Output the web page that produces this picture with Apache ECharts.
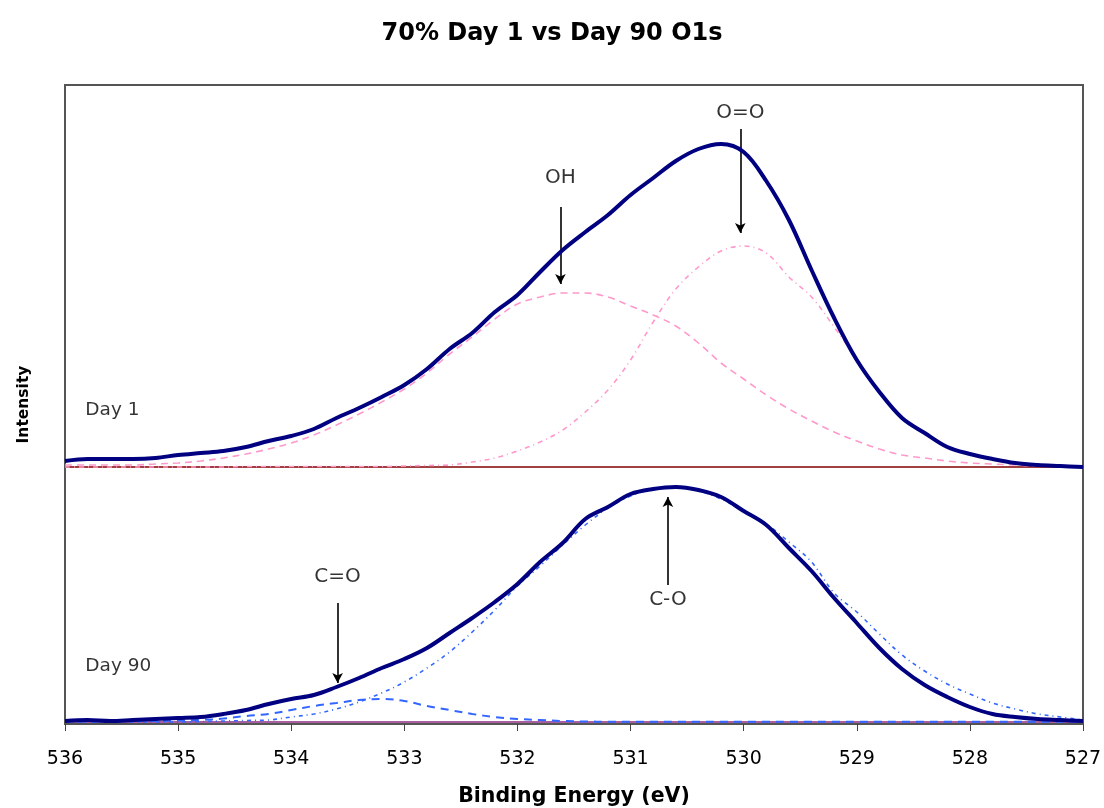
<!DOCTYPE html>
<html>
<head>
<meta charset="utf-8">
<script src="https://cdn.jsdelivr.net/npm/echarts@6/dist/echarts.min.js"></script>
<style>
html,body{margin:0;padding:0;background:#fff;}
#chart{width:1104px;height:808px;}
</style>
</head>
<body>
<div id="chart"></div>
<script>
// Binding energy grid (eV)
const energy = [536.0,535.8,535.6,535.4,535.2,535.0,534.8,534.6,534.4,534.2,534.0,533.8,533.6,533.4,533.2,533.0,532.8,532.6,532.4,532.2,532.0,531.8,531.6,531.4,531.2,531.0,530.8,530.6,530.4,530.2,530.0,529.8,529.6,529.4,529.2,529.0,528.8,528.6,528.4,528.2,528.0,527.8,527.6,527.4,527.2,527.0];

// Day 1 (intensity above its own baseline, arbitrary units)
const day1Envelope = [6,8,8,8,9,12,14,16,20,26,31,38,49,59,70,82,98,118,134,155,172,195,217,235,252,272,289,306,318,323,315,286,247,197,149,107,75,49,34,20,13,8,4,2,1,0];
const day1OH = [2,2,2,2,3,4,6,9,13,18,24,32,42,53,65,78,94,113,130,148,163,170,174,174,170,161,152,141,124,104,88,72,58,46,35,26,18,12,9,6,4,3,2,1,1,0];
const day1OO = [0,0,0,0,0,0,0,0,0.5,0.5,0.5,0.5,0.5,0.5,0.5,1,1.5,2,5,9,16,25,37,55,77,107,145,178,200,216,221,214,190,170,140,108,75,50,33,21,13,8,4,2,1,0];

// Day 90
const day90Envelope = [1,2,1,2,3,4,5,8,12,18,23,27,35,44,54,63,74,89,104,120,138,160,179,203,215,228,233,235,232,225,211,197,174,151,124,99,74,53,37,25,15,8,5,3,2,1];
const day90CO_single = [0,0,0,0,0,0,0.5,1,1.5,2,5,8,13,20,29,40,54,70,90,112,136,156,177,197,214,226,233,235,231,223,211,198,180,160,129,110,88,67,51,38,28,19,13,8,5,2];
const day90CO_double = [0.5,0.5,0.5,1,1,1.5,2,3.5,6,8,12,16,19,22,23,21,16,12,8,5,3,2,1,0.5,0.3,0.3,0.3,0.3,0.3,0.3,0.3,0.3,0.3,0.3,0.3,0.3,0.3,0.3,0.3,0.3,0.3,0.3,0.3,0.3,0.3,0.3];

// Vertical offsets of the two stacked spectra
const day1Offset = 257;
const day90Offset = 2;

// Peak annotations: [text, energy, textValue, arrowFrom, arrowTo]
const peakNotes = [
  ['OH', 531.62, 546, 517, 440],
  ['O=O', 530.03, 611, 595, 491],
  ['C=O', 533.59, 147, 121, 41],
  ['C-O', 530.67, 124, 139, 227]
];
const dayNotes = [
  ['Day 1', 535.82, 314],
  ['Day 90', 535.82, 58]
];

const FONT = '"DejaVu Sans", "Liberation Sans", Arial, sans-serif';

function pts(vals, off) { return energy.map((e, i) => [e, vals[i] + off]); }

function lineSeries(name, vals, off, color, width, type) {
  return {
    name: name, type: 'line', data: pts(vals, off), showSymbol: false, smooth: 0.35,
    lineStyle: { color: color, width: width, type: type }, silent: true, z: width > 3 ? 5 : 3
  };
}

const chart = echarts.init(document.getElementById('chart'), null, { renderer: 'canvas' });

const noteLabel = (text, size, align) => ({
  show: true, formatter: text, fontSize: size, align: align, color: '#000',
  textBorderWidth: 0, fontFamily: FONT, position: 'inside', verticalAlign: 'middle'
});

const series = [
  { type: 'line', data: [[536, day1Offset], [527, day1Offset]], showSymbol: false, lineStyle: { color: '#800000', width: 1.5 }, z: 2 },
  { type: 'line', data: [[536, day90Offset], [527, day90Offset]], showSymbol: false, lineStyle: { color: '#8a2a80', width: 1.5 }, z: 2 },
  lineSeries('Day 1 OH', day1OH, day1Offset, '#ff99cc', 1.6, [7, 5]),
  lineSeries('Day 1 O=O', day1OO, day1Offset, '#ff99cc', 1.6, [5, 4, 1, 4]),
  lineSeries('Day 1', day1Envelope, day1Offset, '#000080', 4, 'solid'),
  lineSeries('Day 90 C-O', day90CO_single, day90Offset, '#3366ff', 1.6, [4, 4, 1, 4]),
  lineSeries('Day 90 C=O', day90CO_double, day90Offset, '#3366ff', 2, [8, 6]),
  lineSeries('Day 90', day90Envelope, day90Offset, '#000080', 4, 'solid'),
  {
    type: 'scatter', symbolSize: 0, silent: true, z: 10,
    itemStyle: { color: '#000' },
    data: peakNotes.map(n => ({ value: [n[1], n[2]], label: noteLabel(n[0], 20, 'center') }))
      .concat(dayNotes.map(n => ({ value: [n[1], n[2]], label: noteLabel(n[0], 18.5, 'left') }))),
    markLine: {
      silent: true, animation: false, symbol: ['none', 'arrow'], symbolSize: [8, 10],
      label: { show: false },
      lineStyle: { color: '#000', width: 1.6, type: 'solid' },
      data: peakNotes.map(n => [{ coord: [n[1], n[3]] }, { coord: [n[1], n[4]] }])
    }
  }
];

chart.setOption({
  animation: false,
  backgroundColor: '#fff',
  title: {
    text: '70% Day 1 vs Day 90 O1s', left: 'center', top: 17,
    textStyle: { fontSize: 24, fontWeight: 'bold', color: '#000', fontFamily: FONT }
  },
  grid: { left: 65, right: 21, top: 85, bottom: 84, show: true, borderColor: '#555', borderWidth: 2, backgroundColor: 'transparent', outerBoundsMode: 'none', containLabel: false },
  xAxis: {
    type: 'value', min: 527, max: 536, interval: 1, inverse: true,
    name: 'Binding Energy (eV)', nameLocation: 'middle', nameGap: 62,
    nameTextStyle: { fontSize: 20.5, fontWeight: 'bold', color: '#000', fontFamily: FONT },
    axisLine: { show: true, lineStyle: { color: '#555', width: 1.5 } },
    axisTick: { show: true, inside: false, length: 7, lineStyle: { color: '#444', width: 1 } },
    axisLabel: { fontSize: 19, color: '#000', fontFamily: FONT, margin: 26 },
    splitLine: { show: false }
  },
  yAxis: {
    type: 'value', min: 0, max: 639,
    name: 'Intensity', nameLocation: 'middle', nameGap: 33,
    nameTextStyle: { fontSize: 15.5, fontWeight: 'bold', color: '#000', fontFamily: FONT },
    axisLine: { show: false }, axisTick: { show: false }, axisLabel: { show: false }, splitLine: { show: false }
  },
  series: series
});
</script>
</body>
</html>
